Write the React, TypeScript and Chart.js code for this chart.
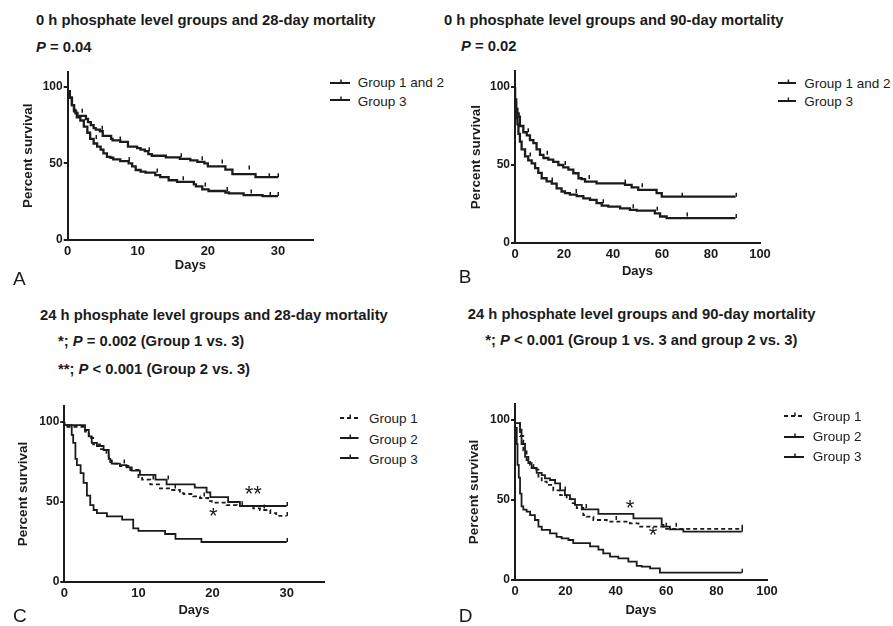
import React, { useEffect, useRef } from 'react';
import { Chart, registerables } from 'chart.js';

Chart.register(...registerables);

const FONT = '"Liberation Sans", Arial, Helvetica, sans-serif';
const INK = '#1b1b1b';
Chart.defaults.font.family = FONT;

// ---------- Panel A: 0 h phosphate, 28-day ----------
const A_G12_DAYS = [0, 0.3, 0.6, 0.9, 1.2, 1.4, 2.6, 2.9, 3.3, 3.7, 4.0, 4.6, 5.0, 6.2, 6.4, 7.5, 8.6, 9.9, 10.4, 11.0, 11.5, 12.0, 14.0, 16.0, 17.5, 18.5, 19.5, 20.0, 22.5, 23.5, 26.8, 28.0, 30];
const A_G12_SURV = [100, 97, 93, 88, 84, 83, 81, 79, 77, 75, 73, 72, 71, 68, 66, 65, 64, 61, 60, 59, 58, 56, 55, 54, 53, 52, 51, 50, 48, 46, 43, 41, 41];
const A_G12_CENSOR = [2.0, 4.9, 7.5, 11.6, 16.1, 19.2, 22.0, 25.9, 28.7, 30];
const A_G3_DAYS = [0, 0.3, 0.6, 0.9, 1.1, 1.3, 1.8, 2.3, 2.8, 3.2, 3.7, 4.2, 4.7, 5.1, 5.6, 6.1, 6.5, 7.5, 8.7, 9.2, 9.7, 10.4, 11.1, 12.5, 13.2, 14.4, 15.6, 18.0, 18.3, 19.2, 20.1, 22.5, 23.0, 25.1, 27.8, 28.7, 30];
const A_G3_SURV = [100, 97, 93, 88, 85, 82.6, 80, 78, 74, 70, 66, 63, 61, 59, 56.5, 54.3, 53.7, 52.6, 51.5, 50, 48, 45.7, 44.6, 44, 42.4, 41, 39, 38, 36.3, 35, 33, 32, 31, 30.4, 29.3, 28.7, 28.7];
const A_G3_CENSOR = [4.0, 8.7, 12.8, 16.4, 19.6, 22.8, 26.1, 28.9, 30];

// ---------- Panel B: 0 h phosphate, 90-day ----------
const B_G12_DAYS = [0, 0.5, 1.0, 1.5, 2.0, 3.4, 4.8, 6.1, 7.5, 8.8, 10.2, 11.6, 13.6, 15.6, 17.7, 19.7, 21.8, 23.8, 25.9, 27.2, 28.6, 33.3, 44.9, 47.6, 50.3, 57.8, 59.9, 67.3, 90];
const B_G12_SURV = [100, 92, 86, 83, 81, 75, 71, 69, 66, 64, 60, 56.5, 54.5, 53.5, 52, 50, 48.5, 47, 44.7, 41.5, 41, 39.3, 38.2, 37.2, 35.7, 34, 32, 29.7, 29.7];
const B_G12_CENSOR = [5.5, 13, 20.5, 30, 45, 52, 68, 90];
const B_G3_DAYS = [0, 0.4, 0.7, 1.0, 1.4, 2.0, 2.7, 4.1, 5.4, 6.8, 8.2, 9.5, 10.9, 12.9, 15.0, 17.0, 19.0, 20.4, 22.4, 25.2, 27.9, 30.6, 33.3, 35.4, 38.1, 42.9, 46.9, 49.7, 57.1, 59.2, 61.9, 70.7, 90];
const B_G3_SURV = [100, 90, 85, 80, 76, 70, 65, 60, 55.5, 53, 51, 48, 45, 41.5, 39.5, 38, 35, 33, 32, 31, 30, 28.6, 27.6, 25.5, 24, 23.3, 22.2, 21.2, 20.7, 19, 17, 16, 16];
const B_G3_CENSOR = [6, 15, 25, 36, 48, 58, 70, 90];

// ---------- Panel C: 24 h phosphate, 28-day ----------
const C_G1_DAYS = [0, 2.8, 3.3, 3.9, 4.8, 5.7, 6.0, 6.4, 7.5, 8.9, 10.0, 10.5, 11.6, 12.9, 14.3, 15.6, 16.1, 17.4, 18.3, 19.4, 19.9, 21.9, 23.3, 25.5, 26.4, 27.8, 28.6, 29.5, 30];
const C_G1_SURV = [100, 97, 94, 90, 86, 83, 79, 76, 74, 72.5, 70, 65, 64, 61, 58.5, 57.5, 55.5, 55, 53.5, 52.5, 50.5, 49.6, 48, 47.5, 46, 45, 43, 41.3, 41.3];
const C_G1_CENSOR = [8, 12, 15, 18.8, 24, 27, 30];
const C_G2_DAYS = [0, 2.8, 3.3, 3.7, 4.4, 5.3, 6.0, 6.2, 6.4, 7.5, 8.4, 9.1, 10.2, 12.3, 13.8, 17.6, 19.2, 19.7, 22.1, 23.7, 26.9, 30];
const C_G2_SURV = [100, 98, 95, 91, 87, 85, 82.5, 77, 75, 74, 73, 71.7, 69.6, 67, 64, 61, 59, 56, 53, 50, 47.5, 47.5];
const C_G2_CENSOR = [14, 30];
const C_G3_DAYS = [0, 1.0, 1.2, 1.5, 1.7, 2.2, 2.6, 3.05, 3.5, 3.95, 4.4, 5.75, 7.8, 9.3, 10.0, 13.6, 15.0, 18.5, 22.8, 30];
const C_G3_SURV = [100, 98, 92, 87, 77, 73, 68, 62, 54, 48, 45, 43, 41, 39, 33.5, 32, 30, 27, 25, 25];
const C_G3_CENSOR = [30];

// ---------- Panel D: 24 h phosphate, 90-day ----------
const D_G1_DAYS = [0, 2.0, 3.3, 4.6, 6.0, 7.3, 9.3, 10.6, 12.6, 15.2, 17.9, 20.5, 22.5, 24.5, 27.1, 28.4, 31.1, 36.4, 45.6, 49.0, 59.5, 66.8, 90];
const D_G1_SURV = [100, 98, 90, 81, 75, 72, 69, 64.6, 61.5, 59.4, 56, 53, 50.5, 48, 45, 40.6, 39.6, 37.5, 36.5, 35.4, 33.3, 32, 32];
const D_G1_CENSOR = [20, 28, 40, 60, 90];
const D_G2_DAYS = [0, 2.0, 2.6, 4.0, 5.3, 6.6, 8.6, 10.6, 11.9, 13.9, 15.9, 17.9, 19.8, 21.8, 23.8, 26.5, 33.1, 47.0, 58.2, 58.9, 61.5, 66.8, 68.1, 90];
const D_G2_SURV = [100, 98, 94, 85, 77, 73, 70, 67, 65.6, 63.5, 62.5, 60.4, 56, 53, 50.5, 47, 44.2, 41.3, 38.5, 34.4, 33.3, 31.7, 30.2, 30.2];
const D_G2_CENSOR = [64, 90];
const D_G3_DAYS = [0, 0.7, 1.0, 1.5, 2.0, 2.6, 3.3, 4.6, 6.0, 7.9, 9.3, 10.6, 13.9, 16.5, 18.5, 21.2, 23.1, 29.8, 33.1, 35.0, 37.7, 41.0, 45.0, 48.3, 50.3, 53.6, 57.5, 70.1, 90];
const D_G3_SURV = [100, 95, 85, 72, 64, 54, 46, 44, 42.7, 40.5, 37.5, 33.3, 31.3, 29.2, 27, 26, 25, 23, 21, 19, 16.7, 14.6, 13.5, 11.5, 8.8, 8.3, 7.3, 4.6, 4.6];
const D_G3_CENSOR = [90];

// Significance marks (day, survival, text)
const C_NOTES = [
  { day: 25.5, surv: 58.8, text: '**' },
  { day: 20.1, surv: 45, text: '*' },
];
const D_NOTES = [
  { day: 45.6, surv: 48.8, text: '*' },
  { day: 54.8, surv: 31.9, text: '*' },
];

const Y_TICKS = [0, 50, 100];

type Series = { days: number[]; surv: number[]; censor: number[]; dashed: boolean };
type Note = { day: number; surv: number; text: string };
type PanelCfg = {
  left: number; top: number; width: number; height: number;
  plotLeft: number; plotTop: number; plotRight: number; plotBottom: number;
  xMax: number; xStep: number; yTitlePad: number; xTitlePad: number; lineWidth: number;
  series: Series[]; notes: Note[];
};

function survAt(days: number[], surv: number[], t: number) {
  let v = surv[0];
  for (let i = 0; i < days.length; i++) if (days[i] <= t) v = surv[i];
  return v;
}

// draws censor ticks (small upward marks) and significance asterisks
const kmPlugin = {
  id: 'kmExtras',
  afterDatasetsDraw(chart: any, _args: any, opts: any) {
    const notes: Note[] = (opts && opts.notes) || [];
    const series: Series[] = (opts && opts.series) || [];
    const { ctx, scales } = chart;
    ctx.save();
    ctx.strokeStyle = INK;
    ctx.lineWidth = 1.5;
    for (const s of series) {
      for (const t of s.censor) {
        const px = Math.round(scales.x.getPixelForValue(t)) + 0.25;
        const py = scales.y.getPixelForValue(survAt(s.days, s.surv, t));
        ctx.beginPath();
        ctx.moveTo(px, py);
        ctx.lineTo(px, py - 4);
        ctx.stroke();
      }
    }
    const size = 22;
    ctx.font = `${size}px ${FONT}`;
    ctx.fillStyle = INK;
    ctx.textAlign = 'center';
    ctx.textBaseline = 'alphabetic';
    for (const n of notes) {
      ctx.fillText(n.text, scales.x.getPixelForValue(n.day), scales.y.getPixelForValue(n.surv) + 0.58 * size);
    }
    ctx.restore();
  },
};

function KMChart({ p }: { p: PanelCfg }) {
  const ref = useRef<HTMLCanvasElement>(null);
  useEffect(() => {
    const canvas = ref.current!;
    const lineSets: any[] = p.series.map((s) => ({
      type: 'line',
      data: s.days.map((d, i) => ({ x: d, y: s.surv[i] })),
      stepped: 'after',
      borderColor: INK,
      borderWidth: p.lineWidth,
      borderDash: s.dashed ? [4, 3] : [],
      pointRadius: 0,
      fill: false,
      tension: 0,
    }));
    const chart = new Chart(canvas, {
      type: 'line',
      data: { datasets: lineSets },
      plugins: [kmPlugin as any],
      options: {
        animation: false,
        responsive: false,
        events: [],
        layout: {
          padding: {
            left: 0,
            top: p.plotTop - p.top,
            right: p.left + p.width - p.plotRight,
            bottom: 0,
          },
        },
        plugins: {
          legend: { display: false },
          tooltip: { enabled: false },
          kmExtras: { notes: p.notes, series: p.series },
        } as any,
        scales: {
          x: {
            type: 'linear',
            min: 0,
            max: p.xMax,
            afterFit: (s: any) => { s.height = p.top + p.height - p.plotBottom; },
            afterBuildTicks: (s: any) => { s.ticks = s.ticks.filter((t: any) => t.value % p.xStep === 0); },
            ticks: { stepSize: p.xStep, maxRotation: 0, padding: 4, color: INK, font: { size: 13, weight: 'bold' } },
            grid: { drawOnChartArea: false, drawTicks: false, color: INK, lineWidth: 2 },
            border: { color: INK, width: 2 },
            title: { display: true, text: 'Days', color: INK, font: { size: 13, weight: 'bold' }, padding: { top: 0, bottom: p.xTitlePad } },
          },
          y: {
            type: 'linear',
            min: 0,
            max: 110,
            afterFit: (s: any) => { s.width = p.plotLeft - p.left; },
            afterBuildTicks: (s: any) => { s.ticks = Y_TICKS.map((v) => ({ value: v })); },
            ticks: { padding: 1, color: INK, font: { size: 12, weight: 'bold' } },
            grid: { drawOnChartArea: false, tickLength: 4, color: INK, lineWidth: 2 },
            border: { color: INK, width: 2 },
            title: { display: true, text: 'Percent survival', color: INK, font: { size: 13.5, weight: 'bold' }, padding: { top: p.yTitlePad, bottom: 0 } },
          },
        },
      } as any,
    });
    return () => chart.destroy();
  }, []);
  return (
    <canvas
      ref={ref}
      width={p.width}
      height={p.height}
      style={{ position: 'absolute', left: p.left, top: p.top, width: p.width, height: p.height }}
    />
  );
}

const PANELS: PanelCfg[] = [
  {
    left: 0, top: 60, width: 330, height: 225,
    plotLeft: 67.7, plotTop: 71.5, plotRight: 313, plotBottom: 240,
    xMax: 35, xStep: 10, yTitlePad: 20, xTitlePad: 11.5, lineWidth: 2.3,
    series: [
      { days: A_G12_DAYS, surv: A_G12_SURV, censor: A_G12_CENSOR, dashed: false },
      { days: A_G3_DAYS, surv: A_G3_SURV, censor: A_G3_CENSOR, dashed: false },
    ],
    notes: [],
  },
  {
    left: 446, top: 60, width: 330, height: 225,
    plotLeft: 515, plotTop: 71.4, plotRight: 760, plotBottom: 243,
    xMax: 100, xStep: 20, yTitlePad: 22, xTitlePad: 5.5, lineWidth: 2.3,
    series: [
      { days: B_G12_DAYS, surv: B_G12_SURV, censor: B_G12_CENSOR, dashed: false },
      { days: B_G3_DAYS, surv: B_G3_SURV, censor: B_G3_CENSOR, dashed: false },
    ],
    notes: [],
  },
  {
    left: 0, top: 395, width: 335, height: 231,
    plotLeft: 64.3, plotTop: 406, plotRight: 323.7, plotBottom: 582,
    xMax: 35, xStep: 10, yTitlePad: 15, xTitlePad: 8, lineWidth: 1.8,
    series: [
      { days: C_G1_DAYS, surv: C_G1_SURV, censor: C_G1_CENSOR, dashed: true },
      { days: C_G2_DAYS, surv: C_G2_SURV, censor: C_G2_CENSOR, dashed: false },
      { days: C_G3_DAYS, surv: C_G3_SURV, censor: C_G3_CENSOR, dashed: false },
    ],
    notes: C_NOTES,
  },
  {
    left: 446, top: 395, width: 340, height: 231,
    plotLeft: 515, plotTop: 404, plotRight: 767, plotBottom: 580,
    xMax: 100, xStep: 20, yTitlePad: 20, xTitlePad: 8, lineWidth: 1.8,
    series: [
      { days: D_G1_DAYS, surv: D_G1_SURV, censor: D_G1_CENSOR, dashed: true },
      { days: D_G2_DAYS, surv: D_G2_SURV, censor: D_G2_CENSOR, dashed: false },
      { days: D_G3_DAYS, surv: D_G3_SURV, censor: D_G3_CENSOR, dashed: false },
    ],
    notes: D_NOTES,
  },
];

function T({ left, baseline, size, bold, children }: { left: number; baseline: number; size: number; bold?: boolean; children: React.ReactNode }) {
  return (
    <div
      style={{
        position: 'absolute', left, top: baseline - 0.8465 * size,
        fontSize: size, lineHeight: 1, fontWeight: bold ? 'bold' : 'normal',
        fontFamily: FONT, color: INK, whiteSpace: 'nowrap',
      }}
    >
      {children}
    </div>
  );
}

function Sample({ x1, x2, y, dashed }: { x1: number; x2: number; y: number; dashed?: boolean }) {
  const w = x2 - x1;
  return (
    <svg style={{ position: 'absolute', left: x1, top: y - 5 }} width={w} height={8}>
      <line x1={0} y1={5} x2={w} y2={5} stroke={INK} strokeWidth={2} strokeDasharray={dashed ? '4 3' : undefined} />
      <line x1={w / 2 + 1} y1={1.5} x2={w / 2 + 1} y2={5} stroke={INK} strokeWidth={1.5} />
    </svg>
  );
}

const TS = 14.8;
const LS = 13.5;

export default function App() {
  return (
    <div style={{ position: 'absolute', left: 0, top: 0, width: 893, height: 626, background: '#fff', overflow: 'hidden' }}>
      {PANELS.map((p, i) => <KMChart key={i} p={p} />)}

      {/* Panel A */}
      <T left={36} baseline={26} size={TS} bold>0 h phosphate level groups and 28-day mortality</T>
      <T left={36} baseline={52.7} size={TS} bold><i>P</i> = 0.04</T>
      <Sample x1={330} x2={350} y={82.7} />
      <Sample x1={330} x2={350} y={100} />
      <T left={357.7} baseline={87.3} size={LS}>Group 1 and 2</T>
      <T left={357.7} baseline={106} size={LS}>Group 3</T>
      <T left={13} baseline={285} size={19}>A</T>

      {/* Panel B */}
      <T left={444} baseline={26} size={TS} bold>0 h phosphate level groups and 90-day mortality</T>
      <T left={461} baseline={51.7} size={TS} bold><i>P</i> = 0.02</T>
      <Sample x1={777.7} x2={796.5} y={83} />
      <Sample x1={777.7} x2={796.5} y={101} />
      <T left={804.3} baseline={88} size={LS}>Group 1 and 2</T>
      <T left={804.3} baseline={106.6} size={LS}>Group 3</T>
      <T left={458.7} baseline={283} size={19}>B</T>

      {/* Panel C */}
      <T left={40} baseline={320.7} size={TS} bold>24 h phosphate level groups and 28-day mortality</T>
      <T left={58} baseline={347} size={TS} bold>*; <i>P</i> = 0.002 (Group 1 vs. 3)</T>
      <T left={58} baseline={375} size={TS} bold>**; <i>P</i> &lt; 0.001 (Group 2 vs. 3)</T>
      <Sample x1={340} x2={358.5} y={417.7} dashed />
      <Sample x1={340} x2={358.5} y={438.3} />
      <Sample x1={340} x2={358.5} y={458.3} />
      <T left={369} baseline={423.3} size={LS}>Group 1</T>
      <T left={369} baseline={444} size={LS}>Group 2</T>
      <T left={369} baseline={464} size={LS}>Group 3</T>
      <T left={13} baseline={622} size={19}>C</T>

      {/* Panel D */}
      <T left={467.7} baseline={320} size={TS} bold>24 h phosphate level groups and 90-day mortality</T>
      <T left={485.3} baseline={346} size={TS} bold>*; <i>P</i> &lt; 0.001 (Group 1 vs. 3 and group 2 vs. 3)</T>
      <Sample x1={784} x2={804} y={416} dashed />
      <Sample x1={784} x2={804} y={436.7} />
      <Sample x1={784} x2={804} y={456.7} />
      <T left={812.7} baseline={421} size={LS}>Group 1</T>
      <T left={812.7} baseline={441.7} size={LS}>Group 2</T>
      <T left={812.7} baseline={461.7} size={LS}>Group 3</T>
      <T left={458.7} baseline={622} size={19}>D</T>
    </div>
  );
}
